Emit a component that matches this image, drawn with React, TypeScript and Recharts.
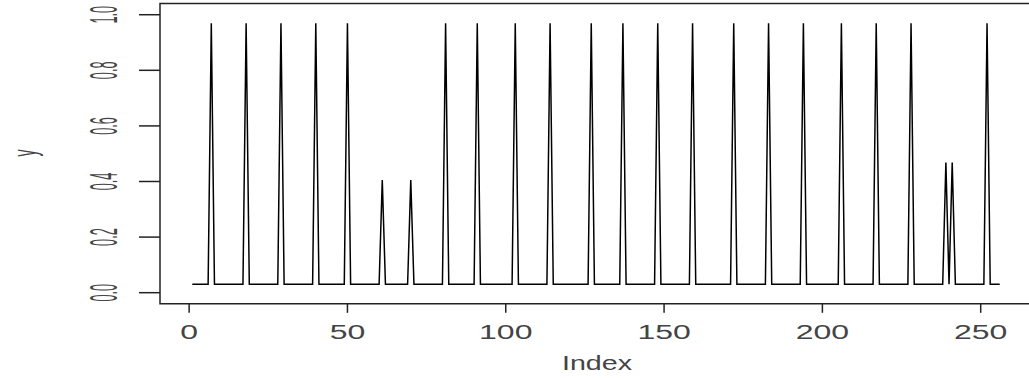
import React from "react";
import { LineChart, Line, XAxis, YAxis, ReferenceArea, Label } from "recharts";

// series: flat baseline with isolated spikes, index 1..256
const seriesLength = 256;
const baselineValue = 0.03;
const spikeIndex = [7, 18, 29, 40, 50, 61, 70, 81, 91, 103, 114, 127, 137, 148, 159, 172, 183, 194, 206, 217, 228, 239, 241, 252];
const spikeValue = [
  0.969, 0.969, 0.969, 0.969, 0.969, 0.405, 0.405, 0.969, 0.969, 0.969, 0.969, 0.969,
  0.969, 0.969, 0.969, 0.969, 0.969, 0.969, 0.969, 0.969, 0.969, 0.468, 0.468, 0.969,
];

const xTicks = [0, 50, 100, 150, 200, 250];
const yTicks = [0, 0.2, 0.4, 0.6, 0.8, 1.0];
const yTickLabels = ["0.0", "0.2", "0.4", "0.6", "0.8", "1.0"];

const data = Array.from({ length: seriesLength }, (_, i) => {
  const idx = i + 1;
  const k = spikeIndex.indexOf(idx);
  return { idx, y: k >= 0 ? spikeValue[k] : baselineValue };
});

const font = "'Liberation Sans', Arial, sans-serif";
const ink = "#222";
const textInk = "#444";

const XTick = (props: any) => {
  const { x, payload } = props;
  return (
    <text
      transform={`translate(${x},339) scale(1.6,1)`}
      textAnchor="middle"
      fontFamily={font}
      fontSize={20}
      fill={textInk}
    >
      {payload.value}
    </text>
  );
};

const YTick = (props: any) => {
  const { y, payload } = props;
  const i = yTicks.indexOf(payload.value);
  return (
    <text
      transform={`translate(117,${y}) scale(3,1) rotate(-90)`}
      textAnchor="middle"
      fontFamily={font}
      fontSize={12.7}
      fill={textInk}
    >
      {yTickLabels[i]}
    </text>
  );
};

export default function App() {
  return (
    <div style={{ position: "absolute", left: 0, top: 0, width: 1029, height: 378, overflow: "hidden", background: "#fff" }}>
      <LineChart width={1040} height={378} data={data} margin={{ top: 3.6, right: 8, left: 0, bottom: 0 }}>
        <XAxis
          type="number"
          dataKey="idx"
          domain={[-9.2, 266.2]}
          ticks={xTicks}
          allowDataOverflow
          axisLine={false}
          tickSize={9}
          tickLine={{ stroke: ink, strokeWidth: 1.5 }}
          tick={XTick}
          height={74.2}
        >
          <Label
            content={() => (
              <text transform="translate(597,370) scale(1.47,1)" textAnchor="middle" fontFamily={font} fontSize={19.5} fill={textInk}>
                Index
              </text>
            )}
          />
        </XAxis>
        <YAxis
          type="number"
          domain={[-0.04, 1.04]}
          ticks={yTicks}
          allowDataOverflow
          axisLine={false}
          tickSize={21}
          tickLine={{ stroke: ink, strokeWidth: 1.5 }}
          tick={YTick}
          width={160}
        >
          <Label
            content={() => (
              <text transform="translate(36,153) scale(2.4,1) rotate(-90)" textAnchor="middle" fontFamily={font} fontSize={14} fill={textInk}>
                y
              </text>
            )}
          />
        </YAxis>
        <ReferenceArea
          x1={-9.2}
          x2={266.2}
          y1={-0.04}
          y2={1.04}
          fill="none"
          stroke={ink}
          strokeWidth={1.5}
          ifOverflow="visible"
        />
        <Line
          type="linear"
          dataKey="y"
          stroke="#000"
          strokeWidth={1.5}
          dot={false}
          isAnimationActive={false}
        />
      </LineChart>
    </div>
  );
}
